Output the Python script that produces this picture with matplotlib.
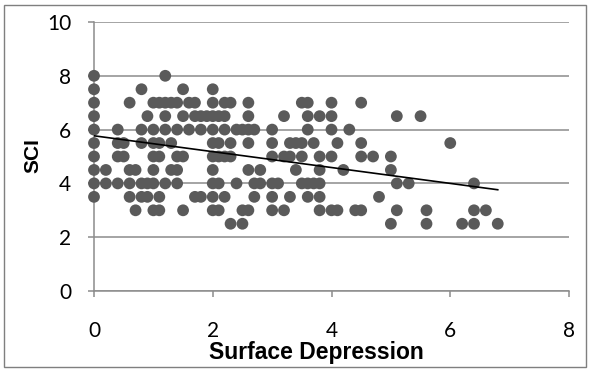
import numpy as np
import matplotlib
matplotlib.use("Agg")
import matplotlib.pyplot as plt
from matplotlib.patches import Rectangle

# ---- data: Surface Depression values grouped by SCI level ----
sd_sci_8_0 = [0, 1.2]
sd_sci_7_5 = [0, 0.8, 1.5, 2.0]
sd_sci_7_0 = [0, 0.6, 1.0, 1.1, 1.2, 1.3, 1.4, 1.6, 1.7, 2.0, 2.2, 2.3, 2.6, 3.5, 3.6, 4.0, 4.5]
sd_sci_6_5 = [0, 0.9, 1.2, 1.5, 1.7, 1.8, 1.9, 2.0, 2.1, 2.2, 2.6, 3.2, 3.6, 3.8, 4.0, 5.1, 5.5]
sd_sci_6_0 = [0, 0.4, 0.8, 1.0, 1.2, 1.4, 1.6, 1.8, 2.0, 2.2, 2.4, 2.5, 2.6, 2.7, 3.0, 3.6, 4.0, 4.3]
sd_sci_5_5 = [0, 0.4, 0.5, 0.8, 1.0, 1.1, 1.3, 2.0, 2.1, 2.3, 2.6, 3.0, 3.3, 3.4, 3.5, 3.7, 4.1, 4.5, 6.0]
sd_sci_5_0 = [0, 0.4, 0.5, 1.0, 1.1, 1.4, 1.5, 2.0, 2.1, 2.2, 2.3, 3.0, 3.2, 3.3, 3.5, 3.8, 4.0, 4.5, 4.7, 5.0]
sd_sci_4_5 = [0, 0.2, 0.6, 0.7, 1.0, 1.3, 1.4, 2.0, 2.6, 2.8, 3.4, 3.8, 4.2, 5.0]
sd_sci_4_0 = [0, 0.2, 0.4, 0.6, 0.8, 0.9, 1.0, 1.2, 1.4, 2.0, 2.1, 2.4, 2.7, 2.8, 3.0, 3.1, 3.5, 3.6, 3.7, 3.8, 5.1, 5.3, 6.4]
sd_sci_3_5 = [0, 0.6, 0.8, 0.9, 1.1, 1.7, 1.8, 2.0, 2.2, 2.7, 3.0, 3.3, 3.6, 3.8, 4.8]
sd_sci_3_0 = [0.7, 1.0, 1.1, 1.5, 2.0, 2.1, 2.5, 2.6, 3.0, 3.2, 3.8, 4.0, 4.1, 4.4, 4.5, 5.1, 5.6, 6.4, 6.6]
sd_sci_2_5 = [2.3, 2.5, 5.0, 5.6, 6.2, 6.4, 6.8]

sci_levels = [8.0, 7.5, 7.0, 6.5, 6.0, 5.5, 5.0, 4.5, 4.0, 3.5, 3.0, 2.5]
sd_groups = [sd_sci_8_0, sd_sci_7_5, sd_sci_7_0, sd_sci_6_5, sd_sci_6_0, sd_sci_5_5,
             sd_sci_5_0, sd_sci_4_5, sd_sci_4_0, sd_sci_3_5, sd_sci_3_0, sd_sci_2_5]

# linear trend line (as drawn in the reference)
trend_intercept = 5.77
trend_slope = -0.295
trend_x_range = [0, 6.8]

x_ticks = [0, 2, 4, 6, 8]
y_ticks = [0, 2, 4, 6, 8, 10]
x_label = "Surface Depression"
y_label = "SCI"

# ---- build arrays ----
surface_depression = np.concatenate([np.array(g, dtype=float) for g in sd_groups])
sci = np.concatenate([np.full(len(g), lvl) for g, lvl in zip(sd_groups, sci_levels)])

W, H = 591, 371
fig = plt.figure(figsize=(W / 100, H / 100), dpi=100)
fig.patch.set_facecolor("white")

ax = fig.add_axes([94 / W, 1 - 291 / H, (569 - 94) / W, (291 - 22) / H])

grid_color = "#8c8c8c"
ax.set_xlim(0, 8)
ax.set_ylim(0, 10)
ax.set_xticks(x_ticks)
ax.set_yticks(y_ticks)
ax.yaxis.grid(True, color=grid_color, linewidth=1.1)
ax.set_axisbelow(True)

for s in ["top", "right"]:
    ax.spines[s].set_visible(False)
for s in ["left", "bottom"]:
    ax.spines[s].set_color(grid_color)
    ax.spines[s].set_linewidth(1.1)

ax.tick_params(axis="both", direction="out", length=4.5, width=1.1, color=grid_color,
               labelsize=15, labelcolor="black")
ax.tick_params(axis="x", pad=17)
ax.tick_params(axis="y", pad=12)
for lab in ax.get_xticklabels() + ax.get_yticklabels():
    lab.set_family(["Lato", "DejaVu Sans"])

ax.scatter(surface_depression, sci, s=72, color="#5a5a5a", edgecolors="none", zorder=3,
           clip_on=False)

tx = np.array(trend_x_range, dtype=float)
ax.plot(tx, trend_intercept + trend_slope * tx, color="black", linewidth=1.2, zorder=4)

fig.text(316 / W, 1 - 353 / H, x_label, ha="center", va="center", fontsize=16.5,
         fontweight="bold", family=["Liberation Sans", "DejaVu Sans"])
fig.text(33 / W, 1 - 156 / H, y_label, ha="center", va="center", fontsize=15,
         fontweight="bold", rotation=90, family=["Liberation Sans", "DejaVu Sans"])

fig.add_artist(Rectangle((4 / W, 4 / H), (W - 9) / W, (H - 9) / H, transform=fig.transFigure,
                         fill=False, edgecolor="#7f7f7f", linewidth=1.0))

fig.savefig("out.png", dpi=100, facecolor="white")
